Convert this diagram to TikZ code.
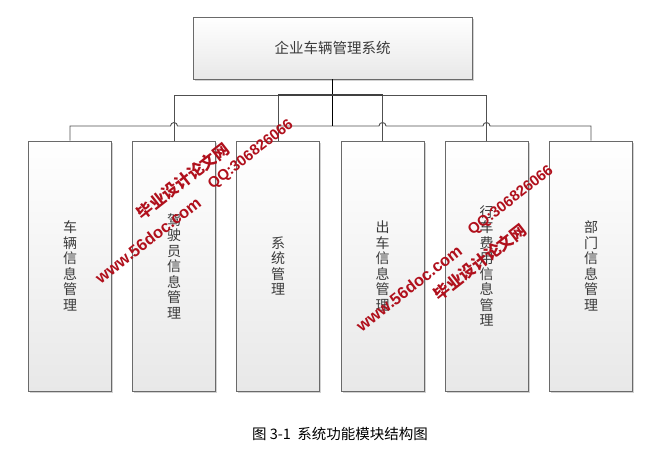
\documentclass[tikz,border=0pt]{standalone}
\usepackage{fontspec}
\usetikzlibrary{shadows}
\newfontfamily\cjk{Noto Sans CJK SC}
\newfontfamily\wmlat{Liberation Sans}
\definecolor{boxline}{HTML}{6A6A6A}
\definecolor{conline}{HTML}{505050}
\definecolor{txtgray}{HTML}{3A3A3A}
\definecolor{wmred}{HTML}{B0101C}
\tikzset{
  box/.style={draw=boxline, line width=0.9pt, top color=white, bottom color=black!9,
    drop shadow={shadow xshift=1.6pt, shadow yshift=-1.6pt, fill=black!35, opacity=0.5},
    text=txtgray, font=\cjk\fontsize{14}{15.5}\selectfont, align=center, inner sep=0pt},
  topbox/.style={box, minimum width=279pt, minimum height=62pt, font=\cjk\fontsize{14.5}{16}\selectfont},
  childbox/.style={box, minimum width=83pt, minimum height=250pt},
  conn/.style={draw=conline, line width=0.9pt},
  stem/.style={draw=black, line width=1.4pt},
  wmcjk/.style={text=wmred, font=\cjk\bfseries\fontsize{16}{16}\selectfont, inner sep=0pt, rotate=38},
  wmlatin/.style={text=wmred, font=\wmlat\bfseries\fontsize{16}{16}\selectfont, inner sep=0pt, rotate=38},
  caption/.style={font=\cjk\fontsize{14.5}{15}\selectfont, text=black, inner sep=0pt}
}
\begin{document}
\begin{tikzpicture}[x=1pt,y=-1pt]
\useasboundingbox[fill=white] (0,0) rectangle (669,463);
% nodes
\node[topbox] (top) at (332.5,48) {企业车辆管理系统};
\node[childbox] (c1) at (70,266) {车\\辆\\信\\息\\管\\理};
\node[childbox] (c2) at (174,266) {驾\\驶\\员\\信\\息\\管\\理};
\node[childbox] (c3) at (278,266) {系\\统\\管\\理};
\node[childbox] (c4) at (382.5,266) {出\\车\\信\\息\\管\\理};
\node[childbox] (c5) at (486.5,266) {行\\车\\费\\用\\信\\息\\管\\理};
\node[childbox] (c6) at (591,266) {部\\门\\信\\息\\管\\理};
\coordinate (u) at (332.5,95);
\coordinate (l) at (332.5,126);
% upper routes
\draw[conn] (u) -| (c2.north);
\draw[conn] (u) -| (c3.north);
\draw[conn] (u) -| (c4.north);
\draw[conn] (u) -| (c5.north);
% lower routes with hops
\draw[conn] (l) -- (177.5,126) arc (0:-180:3.5) -- (c1.north |- l) -- (c1.north);
\draw[conn] (l) -- (379,126) arc (180:360:3.5) -- (483,126) arc (180:360:3.5) -- (c6.north |- l) -- (c6.north);
% stem and overlapping segments
\draw[stem] (top.south) -- (l);
\draw[line width=1.3pt, draw=black!75] (c3.north |- u) -- (c4.north |- u);
% caption
\node[caption] (cap) at (340,434) {图\ 3-1\ \ 系统功能模块结构图};
% watermarks
\node[wmcjk] (w1) at (183,181) {毕业设计论文网};
\node[wmlatin, font=\wmlat\bfseries\fontsize{16.5}{16}\selectfont] (w2) at (148,240) {www.56doc.com};
\node[wmlatin, font=\wmlat\bfseries\fontsize{15}{15}\selectfont] (w3) at (251,155) {QQ:306826066};
\node[wmlatin, font=\wmlat\bfseries\fontsize{16.5}{16}\selectfont] (w4) at (409,288) {www.56doc.com};
\node[wmcjk] (w5) at (480,262) {毕业设计论文网};
\node[wmlatin, font=\wmlat\bfseries\fontsize{15}{15}\selectfont] (w6) at (511,201) {QQ:306826066};
\end{tikzpicture}
\end{document}
